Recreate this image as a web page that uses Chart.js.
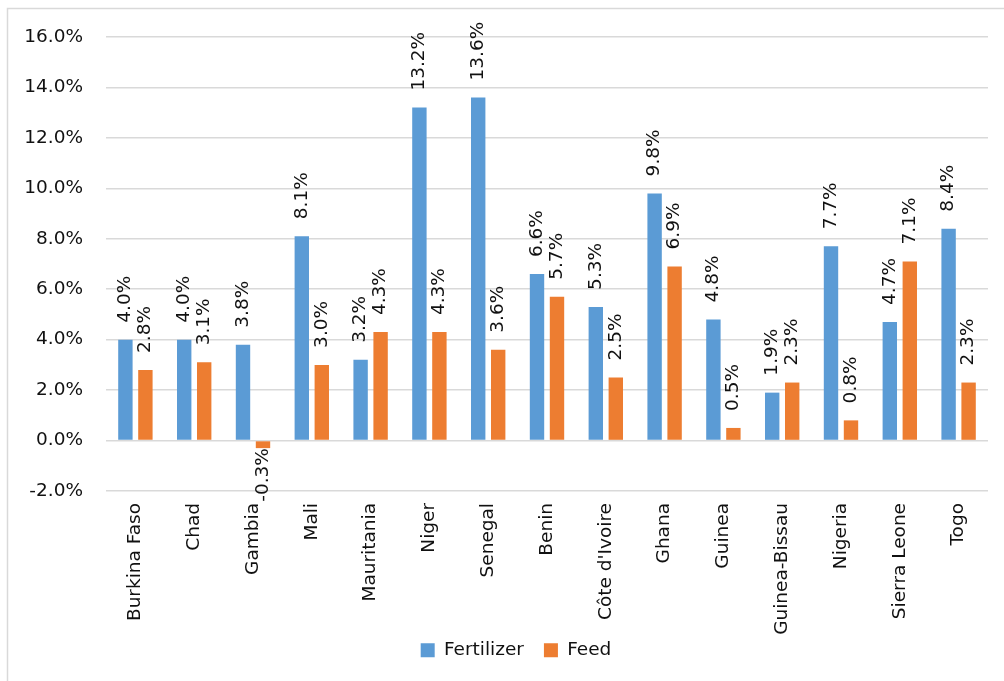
<!DOCTYPE html>
<html>
<head>
<meta charset="utf-8">
<title>Fertilizer and Feed</title>
<script src="https://cdn.jsdelivr.net/npm/chart.js@4.4.1/dist/chart.umd.min.js"></script>
<style>
  html, body { margin: 0; padding: 0; background: #ffffff; }
  #wrap { position: relative; width: 1004px; height: 681px; }
  canvas { display: block; }
</style>
</head>
<body>
<div id="wrap"><canvas id="chart" width="1004" height="681"></canvas></div>
<script>
// Countries on the category axis
const countries = [
  'Burkina Faso', 'Chad', 'Gambia', 'Mali', 'Mauritania', 'Niger', 'Senegal',
  'Benin', "Côte d'Ivoire", 'Ghana', 'Guinea', 'Guinea-Bissau', 'Nigeria',
  'Sierra Leone', 'Togo'
];

// Series values, in percent
const fertilizer = [4.0, 4.0, 3.8, 8.1, 3.2, 13.2, 13.6, 6.6, 5.3, 9.8, 4.8, 1.9, 7.7, 4.7, 8.4];
const feed       = [2.8, 3.1, -0.3, 3.0, 4.3, 4.3, 3.6, 5.7, 2.5, 6.9, 0.5, 2.3, 0.8, 7.1, 2.3];

// Value axis range and step, in percent
const axisMin = -2;
const axisMax = 16;
const axisStep = 2;

const FONT = { family: '"DejaVu Sans", sans-serif', size: 18.5 };
const TEXT = '#111111';

// Light grey frame around the whole chart
const frame = {
  id: 'frame',
  beforeDraw(chart) {
    const ctx = chart.ctx;
    ctx.save();
    ctx.strokeStyle = '#d9d9d9';
    ctx.lineWidth = 1.5;
    ctx.beginPath();
    ctx.moveTo(7.5, chart.height + 5);
    ctx.lineTo(7.5, 8.5);
    ctx.lineTo(chart.width + 5, 8.5);
    ctx.stroke();
    ctx.restore();
  }
};

// Nudge the legend: centred a little right of the plot, just under the labels
const legendOffset = {
  id: 'legendOffset',
  afterLayout(chart) {
    const lg = chart.legend;
    if (!lg) return;
    const dx = 22, dy = -20;
    lg.left += dx; lg.right += dx;
    lg.top += dy;
  }
};

// Rotated value labels at the outer end of every bar
const valueLabels = {
  id: 'valueLabels',
  afterDatasetsDraw(chart) {
    const ctx = chart.ctx;
    chart.data.datasets.forEach((ds, i) => {
      const meta = chart.getDatasetMeta(i);
      meta.data.forEach((bar, j) => {
        const v = ds.data[j];
        const text = v.toFixed(1) + '%';
        ctx.save();
        ctx.font = FONT.size + 'px ' + FONT.family;
        ctx.fillStyle = TEXT;
        ctx.translate(bar.x, bar.y);
        ctx.rotate(-Math.PI / 2);
        ctx.textBaseline = 'middle';
        if (v >= 0) {
          ctx.textAlign = 'left';
          ctx.fillText(text, 17, 0);
        } else {
          ctx.textAlign = 'right';
          ctx.fillText(text, 0, 0);
        }
        ctx.restore();
      });
    });
  }
};

new Chart(document.getElementById('chart'), {
  type: 'bar',
  data: {
    labels: countries,
    datasets: [
      { label: 'Fertilizer', data: fertilizer, backgroundColor: '#5B9BD5',
        categoryPercentage: 0.68, barPercentage: 0.72 },
      { label: 'Feed', data: feed, backgroundColor: '#ED7D31',
        categoryPercentage: 0.68, barPercentage: 0.72 }
    ]
  },
  options: {
    responsive: false,
    animation: false,
    devicePixelRatio: 1,
    layout: { padding: { left: 0, right: 16, top: 37, bottom: 10 } },
    plugins: {
      tooltip: { enabled: false },
      legend: {
        position: 'bottom',
        maxHeight: 30,
        labels: {
          font: FONT,
          color: TEXT,
          boxWidth: 14,
          boxHeight: 14,
          padding: 20
        }
      }
    },
    scales: {
      x: {
        grid: { display: false, drawTicks: false },
        border: { display: false },
        ticks: {
          font: FONT,
          color: TEXT,
          minRotation: 90,
          maxRotation: 90,
          autoSkip: false,
          padding: 12
        },
        afterFit(scale) { scale.height = 150; }
      },
      y: {
        min: axisMin,
        max: axisMax,
        grid: { color: '#d9d9d9', lineWidth: 1.5, drawTicks: false },
        border: { display: false },
        ticks: {
          stepSize: axisStep,
          font: FONT,
          color: TEXT,
          padding: 23,
          callback: (v) => Number(v).toFixed(1) + '%'
        },
        afterFit(scale) { scale.width = 106; }
      }
    }
  },
  plugins: [frame, legendOffset, valueLabels]
});
</script>
</body>
</html>
